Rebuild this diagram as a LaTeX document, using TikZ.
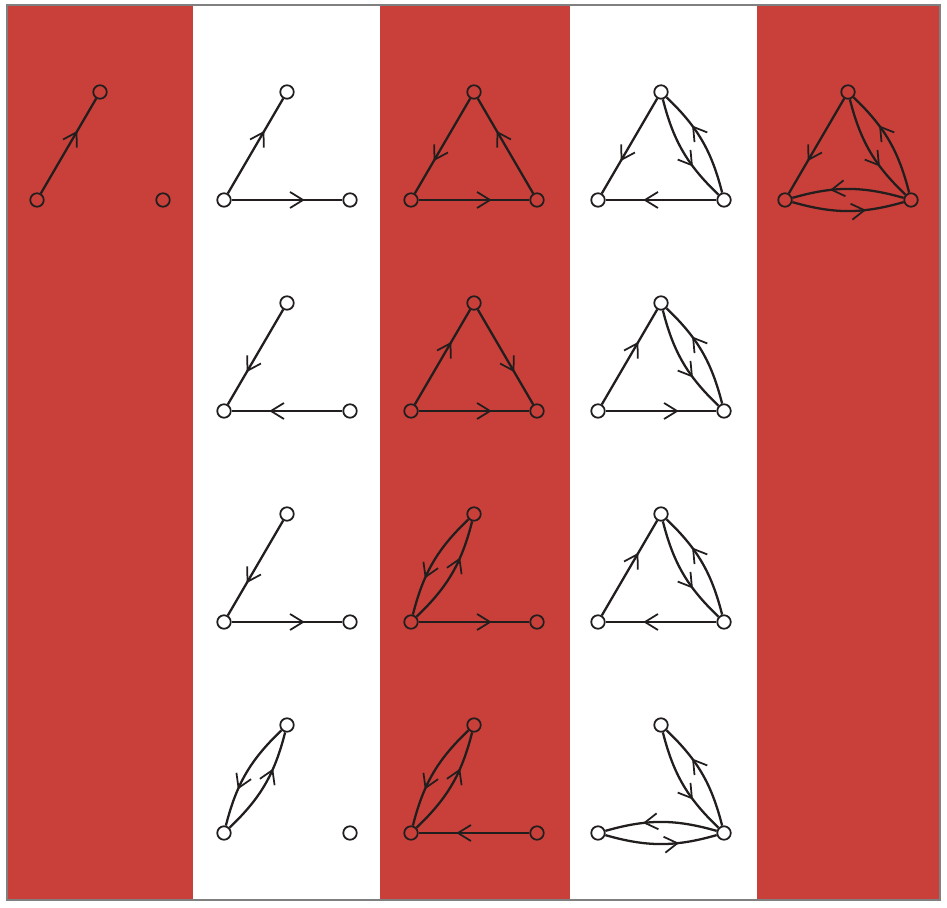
\documentclass[tikz,border=0pt]{standalone}
\usetikzlibrary{arrows.meta,decorations.markings}
\definecolor{stripred}{RGB}{201,64,58}
\definecolor{inkgray}{RGB}{35,30,30}
\tikzset{
  vtx/.style={circle, draw=inkgray, line width=1pt, inner sep=0pt, minimum size=0.27cm},
  dedge/.style={color=inkgray, line width=1.3pt, postaction={decorate},
    decoration={markings, mark=at position 0.66 with {\arrow{Straight Barb[length=2.6mm,width=3.2mm,line width=1pt]}}}},
}
\begin{document}
\begin{tikzpicture}[x=0.02cm, y=0.02cm]
        \useasboundingbox (0,0) rectangle (947,907);

        % Stripes
        \fill[stripred] (7,7) rectangle (193,902);
        \fill[stripred] (380,7) rectangle (570,902);
        \fill[stripred] (757,7) rectangle (940,902);
        \draw[gray, line width=0.6pt] (7,7) rectangle (940,902);

        % Vertices: left, top, right of each cell (column, row)
        \foreach \c/\r in {1/1,2/1,3/1,4/1,5/1,2/2,3/2,4/2,2/3,3/3,4/3,2/4,3/4,4/4} {
            \node[vtx] (l\c\r) at ({37+187*(\c-1)}, {707-211*(\r-1)}) {};
            \node[vtx] (t\c\r) at ({100+187*(\c-1)}, {815-211*(\r-1)}) {};
            \node[vtx] (r\c\r) at ({163+187*(\c-1)}, {707-211*(\r-1)}) {};
        }

        % Row 1
        \draw[dedge] (l11) -- (t11);
        \draw[dedge] (l21) -- (t21);
        \draw[dedge] (l21) -- (r21);
        \draw[dedge] (t31) -- (l31);
        \draw[dedge] (l31) -- (r31);
        \draw[dedge] (r31) -- (t31);
        \draw[dedge] (t41) -- (l41);
        \draw[dedge] (r41) -- (l41);
        \draw[dedge] (r41) to[bend right=16] (t41);
        \draw[dedge] (t41) to[bend right=16] (r41);
        \draw[dedge] (t51) -- (l51);
        \draw[dedge] (r51) to[bend right=16] (t51);
        \draw[dedge] (t51) to[bend right=16] (r51);
        \draw[dedge] (r51) to[bend right=16] (l51);
        \draw[dedge] (l51) to[bend right=16] (r51);

        % Row 2
        \draw[dedge] (t22) -- (l22);
        \draw[dedge] (r22) -- (l22);
        \draw[dedge] (l32) -- (t32);
        \draw[dedge] (t32) -- (r32);
        \draw[dedge] (l32) -- (r32);
        \draw[dedge] (l42) -- (t42);
        \draw[dedge] (l42) -- (r42);
        \draw[dedge] (r42) to[bend right=16] (t42);
        \draw[dedge] (t42) to[bend right=16] (r42);

        % Row 3
        \draw[dedge] (t23) -- (l23);
        \draw[dedge] (l23) -- (r23);
        \draw[dedge] (t33) to[bend right=16] (l33);
        \draw[dedge] (l33) to[bend right=16] (t33);
        \draw[dedge] (l33) -- (r33);
        \draw[dedge] (l43) -- (t43);
        \draw[dedge] (r43) -- (l43);
        \draw[dedge] (r43) to[bend right=16] (t43);
        \draw[dedge] (t43) to[bend right=16] (r43);

        % Row 4
        \draw[dedge] (t24) to[bend right=16] (l24);
        \draw[dedge] (l24) to[bend right=16] (t24);
        \draw[dedge] (t34) to[bend right=16] (l34);
        \draw[dedge] (l34) to[bend right=16] (t34);
        \draw[dedge] (r34) -- (l34);
        \draw[dedge] (r44) to[bend right=16] (t44);
        \draw[dedge] (t44) to[bend right=16] (r44);
        \draw[dedge] (r44) to[bend right=16] (l44);
        \draw[dedge] (l44) to[bend right=16] (r44);
\end{tikzpicture}
\end{document}
